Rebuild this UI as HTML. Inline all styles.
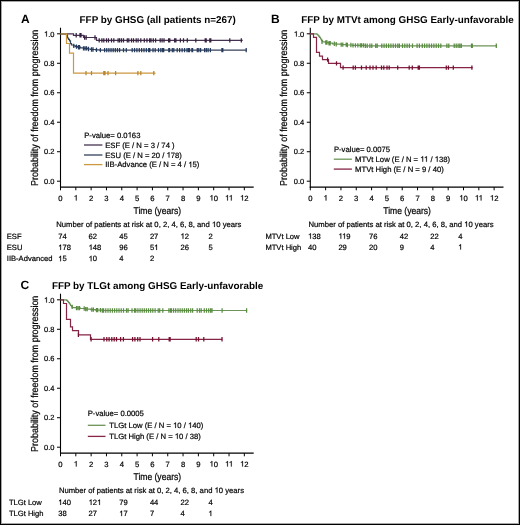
<!DOCTYPE html>
<html><head><meta charset="utf-8"><style>
html,body{margin:0;padding:0;background:#fff;}
body{width:520px;height:525px;overflow:hidden;font-family:"Liberation Sans", sans-serif;}
svg{display:block;will-change:transform;text-rendering:geometricPrecision;}
text{stroke:#000;stroke-width:0.2px;}
text[font-weight=bold]{stroke-width:0px;}
tspan.o{fill:none;stroke:none;}
path.one{stroke:#000;stroke-width:0.2px;}
</style></head><body>
<svg width="520" height="525" viewBox="0 0 520 525" font-family='"Liberation Sans", sans-serif'>
<defs><filter id="bl" x="0" y="0" width="520" height="525" filterUnits="userSpaceOnUse" color-interpolation-filters="sRGB"><feConvolveMatrix order="3" kernelMatrix="0 0 0 0 1 0 0 0 0" divisor="1" edgeMode="duplicate" preserveAlpha="true"/></filter></defs>
<rect x="0" y="0" width="520" height="525" fill="#fff"/>
<g filter="url(#bl)">
<rect x="0" y="0" width="520" height="525" fill="#fff"/>
<line x1="60.50" y1="27.70" x2="60.50" y2="187.70" stroke="#000" stroke-width="1.1"/>
<line x1="60.00" y1="187.10" x2="253.70" y2="187.10" stroke="#000" stroke-width="1.4"/>
<line x1="57.00" y1="181.20" x2="60.50" y2="181.20" stroke="#000" stroke-width="1.0"/>
<text x="54.50" y="183.90" font-size="7.5" text-anchor="end" font-weight="normal" fill="#000">0.0</text>
<line x1="57.00" y1="151.72" x2="60.50" y2="151.72" stroke="#000" stroke-width="1.0"/>
<text x="54.50" y="154.42" font-size="7.5" text-anchor="end" font-weight="normal" fill="#000">0.2</text>
<line x1="57.00" y1="122.24" x2="60.50" y2="122.24" stroke="#000" stroke-width="1.0"/>
<text x="54.50" y="124.94" font-size="7.5" text-anchor="end" font-weight="normal" fill="#000">0.4</text>
<line x1="57.00" y1="92.76" x2="60.50" y2="92.76" stroke="#000" stroke-width="1.0"/>
<text x="54.50" y="95.46" font-size="7.5" text-anchor="end" font-weight="normal" fill="#000">0.6</text>
<line x1="57.00" y1="63.28" x2="60.50" y2="63.28" stroke="#000" stroke-width="1.0"/>
<text x="54.50" y="65.98" font-size="7.5" text-anchor="end" font-weight="normal" fill="#000">0.8</text>
<line x1="57.00" y1="33.80" x2="60.50" y2="33.80" stroke="#000" stroke-width="1.0"/>
<text id="t1" x="54.50" y="36.50" font-size="7.5" text-anchor="end" font-weight="normal" fill="#000"><tspan class="o">1</tspan>.0</text>
<path class="one" d="M46.86,36.50 L46.86,31.13 L46.43,31.13 L46.11,31.52 L45.53,32.00 L44.88,32.34 L44.88,32.96 L45.53,32.69 L46.20,32.30 L46.20,36.50Z " fill="#000"/>
<line x1="60.50" y1="187.10" x2="60.50" y2="190.30" stroke="#000" stroke-width="1.0"/>
<text x="60.50" y="200.50" font-size="7.7" text-anchor="middle" font-weight="normal" fill="#000">0</text>
<line x1="75.82" y1="187.10" x2="75.82" y2="190.30" stroke="#000" stroke-width="1.0"/>
<text id="t2" x="75.82" y="200.50" font-size="7.7" text-anchor="middle" font-weight="normal" fill="#000"><tspan class="o">1</tspan></text>
<path class="one" d="M76.55,200.50 L76.55,194.99 L76.11,194.99 L75.78,195.39 L75.18,195.88 L74.52,196.23 L74.52,196.87 L75.18,196.59 L75.87,196.19 L75.87,200.50Z " fill="#000"/>
<line x1="91.14" y1="187.10" x2="91.14" y2="190.30" stroke="#000" stroke-width="1.0"/>
<text x="91.14" y="200.50" font-size="7.7" text-anchor="middle" font-weight="normal" fill="#000">2</text>
<line x1="106.46" y1="187.10" x2="106.46" y2="190.30" stroke="#000" stroke-width="1.0"/>
<text x="106.46" y="200.50" font-size="7.7" text-anchor="middle" font-weight="normal" fill="#000">3</text>
<line x1="121.78" y1="187.10" x2="121.78" y2="190.30" stroke="#000" stroke-width="1.0"/>
<text x="121.78" y="200.50" font-size="7.7" text-anchor="middle" font-weight="normal" fill="#000">4</text>
<line x1="137.10" y1="187.10" x2="137.10" y2="190.30" stroke="#000" stroke-width="1.0"/>
<text x="137.10" y="200.50" font-size="7.7" text-anchor="middle" font-weight="normal" fill="#000">5</text>
<line x1="152.42" y1="187.10" x2="152.42" y2="190.30" stroke="#000" stroke-width="1.0"/>
<text x="152.42" y="200.50" font-size="7.7" text-anchor="middle" font-weight="normal" fill="#000">6</text>
<line x1="167.74" y1="187.10" x2="167.74" y2="190.30" stroke="#000" stroke-width="1.0"/>
<text x="167.74" y="200.50" font-size="7.7" text-anchor="middle" font-weight="normal" fill="#000">7</text>
<line x1="183.06" y1="187.10" x2="183.06" y2="190.30" stroke="#000" stroke-width="1.0"/>
<text x="183.06" y="200.50" font-size="7.7" text-anchor="middle" font-weight="normal" fill="#000">8</text>
<line x1="198.38" y1="187.10" x2="198.38" y2="190.30" stroke="#000" stroke-width="1.0"/>
<text x="198.38" y="200.50" font-size="7.7" text-anchor="middle" font-weight="normal" fill="#000">9</text>
<line x1="213.70" y1="187.10" x2="213.70" y2="190.30" stroke="#000" stroke-width="1.0"/>
<text id="t3" x="213.70" y="200.50" font-size="7.7" text-anchor="middle" font-weight="normal" fill="#000"><tspan class="o">1</tspan>0</text>
<path class="one" d="M212.29,200.50 L212.29,194.99 L211.85,194.99 L211.52,195.39 L210.92,195.88 L210.26,196.23 L210.26,196.87 L210.92,196.59 L211.61,196.19 L211.61,200.50Z " fill="#000"/>
<line x1="229.02" y1="187.10" x2="229.02" y2="190.30" stroke="#000" stroke-width="1.0"/>
<text id="t4" x="229.02" y="200.50" font-size="7.7" text-anchor="middle" font-weight="normal" fill="#000"><tspan class="o">1</tspan><tspan class="o">1</tspan></text>
<path class="one" d="M227.89,200.50 L227.89,194.99 L227.45,194.99 L227.13,195.39 L226.52,195.88 L225.86,196.23 L225.86,196.87 L226.52,196.59 L227.21,196.19 L227.21,200.50Z M231.61,200.50 L231.61,194.99 L231.17,194.99 L230.84,195.39 L230.24,195.88 L229.58,196.23 L229.58,196.87 L230.24,196.59 L230.93,196.19 L230.93,200.50Z " fill="#000"/>
<line x1="244.34" y1="187.10" x2="244.34" y2="190.30" stroke="#000" stroke-width="1.0"/>
<text id="t5" x="244.34" y="200.50" font-size="7.7" text-anchor="middle" font-weight="normal" fill="#000"><tspan class="o">1</tspan>2</text>
<path class="one" d="M242.93,200.50 L242.93,194.99 L242.49,194.99 L242.16,195.39 L241.56,195.88 L240.90,196.23 L240.90,196.87 L241.56,196.59 L242.25,196.19 L242.25,200.50Z " fill="#000"/>
<text transform="translate(157.30,214.00) scale(1,1.14)" font-size="8.56" text-anchor="middle" fill="#000">Time (years)</text>
<text transform="translate(37.60,107.80) rotate(-90) scale(1,1.12)" font-size="8.93" text-anchor="middle" fill="#000">Probability of freedom from progression</text>
<text x="21.00" y="22.80" font-size="12.0" text-anchor="start" font-weight="bold" fill="#000">A</text>
<text x="79.60" y="22.50" font-size="9.87" text-anchor="start" font-weight="bold" fill="#000">FFP by GHSG (all patients n=267)</text>
<path d="M60.50,33.80 L73.50,33.80 L73.50,35.30 L83.50,35.30 L83.50,37.50 L96.50,37.50 L96.50,40.40 L242.70,40.40" fill="none" stroke="#45324f" stroke-width="1.2" stroke-linejoin="miter" stroke-linecap="butt"/>
<path d="M76.20,33.10 V37.50 M80.00,33.10 V37.50 M81.00,33.10 V37.50 M84.60,35.30 V39.70 M86.20,35.30 V39.70 M95.00,35.30 V39.70 M99.20,38.20 V42.60 M101.90,38.20 V42.60 M103.80,38.20 V42.60 M106.50,38.20 V42.60 M108.50,38.20 V42.60 M111.50,38.20 V42.60 M113.80,38.20 V42.60 M118.10,38.20 V42.60 M119.60,38.20 V42.60 M121.50,38.20 V42.60 M123.50,38.20 V42.60 M127.30,38.20 V42.60 M128.80,38.20 V42.60 M131.50,38.20 V42.60 M133.50,38.20 V42.60 M136.20,38.20 V42.60 M138.10,38.20 V42.60 M140.80,38.20 V42.60 M144.30,38.20 V42.60 M146.95,38.20 V42.60 M149.60,38.20 V42.60 M151.00,38.20 V42.60 M153.30,38.20 V42.60 M155.60,38.20 V42.60 M160.20,38.20 V42.60 M162.10,38.20 V42.60 M164.00,38.20 V42.60 M168.60,38.20 V42.60 M169.80,38.20 V42.60 M174.60,38.20 V42.60 M175.90,38.20 V42.60 M180.40,38.20 V42.60 M183.50,38.20 V42.60 M187.30,38.20 V42.60 M195.80,38.20 V42.60 M205.20,38.20 V42.60 M206.20,38.20 V42.60 M209.80,38.20 V42.60 M210.80,38.20 V42.60 M229.80,38.20 V42.60 M241.30,38.20 V42.60 " stroke="#35203f" stroke-width="1.25" fill="none"/>
<path d="M60.50,33.80 L66.50,33.80 L66.50,35.20 L67.50,35.20 L67.50,36.60 L67.50,36.60 L67.50,38.00 L68.50,38.00 L68.50,39.40 L69.50,39.40 L69.50,40.80 L70.50,40.80 L70.50,42.20 L70.50,42.20 L70.50,43.60 L71.50,43.60 L71.50,45.00 L73.50,45.00 L73.50,45.90 L75.50,45.90 L75.50,46.60 L77.50,46.60 L77.50,47.20 L80.50,47.20 L80.50,47.80 L83.50,47.80 L83.50,48.40 L87.50,48.40 L87.50,49.00 L90.50,49.00 L90.50,49.50 L95.50,49.50 L95.50,49.90 L99.50,49.90 L99.50,50.15 L246.70,50.15" fill="none" stroke="#34425a" stroke-width="1.2" stroke-linejoin="miter" stroke-linecap="butt"/>
<path d="M73.80,43.70 V48.10 M76.50,44.40 V48.80 M78.50,45.00 V49.40 M79.50,45.00 V49.40 M83.50,46.20 V50.60 M85.00,46.20 V50.60 M86.50,46.20 V50.60 M88.50,46.80 V51.20 M91.50,47.30 V51.70 M93.00,47.30 V51.70 M96.50,47.70 V52.10 M100.40,47.95 V52.35 M104.60,47.95 V52.35 M106.74,47.95 V52.35 M108.89,47.95 V52.35 M111.03,47.95 V52.35 M113.17,47.95 V52.35 M115.31,47.95 V52.35 M117.46,47.95 V52.35 M119.60,47.95 V52.35 M123.50,47.95 V52.35 M126.30,47.95 V52.35 M132.20,47.95 V52.35 M134.56,47.95 V52.35 M136.91,47.95 V52.35 M139.27,47.95 V52.35 M141.63,47.95 V52.35 M143.99,47.95 V52.35 M146.34,47.95 V52.35 M148.70,47.95 V52.35 M149.80,47.95 V52.35 M153.00,47.95 V52.35 M155.20,47.95 V52.35 M158.50,47.95 V52.35 M160.80,47.95 V52.35 M162.50,47.95 V52.35 M163.70,47.95 V52.35 M168.80,47.95 V52.35 M169.60,47.95 V52.35 M172.30,47.95 V52.35 M173.80,47.95 V52.35 M177.20,47.95 V52.35 M179.65,47.95 V52.35 M182.10,47.95 V52.35 M184.55,47.95 V52.35 M187.00,47.95 V52.35 M188.50,47.95 V52.35 M189.50,47.95 V52.35 M191.90,47.95 V52.35 M192.60,47.95 V52.35 M197.30,47.95 V52.35 M198.80,47.95 V52.35 M200.60,47.95 V52.35 M204.60,47.95 V52.35 M206.30,47.95 V52.35 M208.10,47.95 V52.35 M210.40,47.95 V52.35 M221.90,47.95 V52.35 M222.80,47.95 V52.35 M246.20,47.95 V52.35 " stroke="#253a5c" stroke-width="1.25" fill="none"/>
<path d="M60.50,33.80 L66.50,33.80 L66.50,43.50 L69.50,43.50 L69.50,53.20 L73.50,53.20 L73.50,73.10 L155.50,73.10" fill="none" stroke="#cc9840" stroke-width="1.2" stroke-linejoin="miter" stroke-linecap="butt"/>
<path d="M86.00,70.90 V75.30 M91.50,70.90 V75.30 M103.80,70.90 V75.30 M105.00,70.90 V75.30 M108.00,70.90 V75.30 M115.60,70.90 V75.30 M137.90,70.90 V75.30 M140.80,70.90 V75.30 M153.80,70.90 V75.30 " stroke="#b8862e" stroke-width="1.25" fill="none"/>
<text id="t6" x="84.20" y="137.60" font-size="7.7" text-anchor="start" font-weight="normal" fill="#000">P-value= 0.0<tspan class="o">1</tspan>63</text>
<path class="one" d="M130.46,137.60 L130.46,132.09 L130.02,132.09 L129.70,132.49 L129.09,132.98 L128.43,133.33 L128.43,133.97 L129.09,133.69 L129.78,133.29 L129.78,137.60Z " fill="#000"/>
<line x1="84.00" y1="145.00" x2="102.40" y2="145.00" stroke="#45324f" stroke-width="1.3"/>
<text x="105.20" y="147.60" font-size="7.7" text-anchor="start" font-weight="normal" fill="#000">ESF (E / N = 3 / 74 )</text>
<line x1="84.00" y1="155.00" x2="102.40" y2="155.00" stroke="#34425a" stroke-width="1.3"/>
<text id="t7" x="105.20" y="157.60" font-size="7.7" text-anchor="start" font-weight="normal" fill="#000">ESU (E / N = 20 / <tspan class="o">1</tspan>78)</text>
<path class="one" d="M169.38,157.60 L169.38,152.09 L168.94,152.09 L168.62,152.49 L168.02,152.98 L167.35,153.33 L167.35,153.97 L168.02,153.69 L168.70,153.29 L168.70,157.60Z " fill="#000"/>
<line x1="84.00" y1="164.60" x2="102.40" y2="164.60" stroke="#cc9840" stroke-width="1.3"/>
<text id="t8" x="105.20" y="167.20" font-size="7.7" text-anchor="start" font-weight="normal" fill="#000">IIB-Advance (E / N = 4 / <tspan class="o">1</tspan>5)</text>
<path class="one" d="M191.18,167.20 L191.18,161.69 L190.74,161.69 L190.41,162.09 L189.81,162.58 L189.15,162.93 L189.15,163.57 L189.81,163.29 L190.50,162.89 L190.50,167.20Z " fill="#000"/>
<text id="t9" x="56.30" y="227.00" font-size="7.68" text-anchor="start" font-weight="normal" fill="#000">Number of patients at risk at 0, 2, 4, 6, 8, and <tspan class="o">1</tspan>0 years</text>
<path class="one" d="M214.82,227.00 L214.82,221.50 L214.38,221.50 L214.06,221.90 L213.46,222.39 L212.79,222.74 L212.79,223.38 L213.46,223.10 L214.14,222.70 L214.14,227.00Z " fill="#000"/>
<text x="6.80" y="238.75" font-size="7.6" text-anchor="start" font-weight="normal" fill="#000">ESF</text>
<text x="58.20" y="238.75" font-size="7.6" text-anchor="start" font-weight="normal" fill="#000">74</text>
<text x="88.60" y="238.75" font-size="7.6" text-anchor="start" font-weight="normal" fill="#000">62</text>
<text x="119.20" y="238.75" font-size="7.6" text-anchor="start" font-weight="normal" fill="#000">45</text>
<text x="149.90" y="238.75" font-size="7.6" text-anchor="start" font-weight="normal" fill="#000">27</text>
<text id="t10" x="180.50" y="238.75" font-size="7.6" text-anchor="start" font-weight="normal" fill="#000"><tspan class="o">1</tspan>2</text>
<path class="one" d="M183.33,238.75 L183.33,233.31 L182.90,233.31 L182.58,233.70 L181.98,234.19 L181.33,234.54 L181.33,235.17 L181.98,234.89 L182.66,234.49 L182.66,238.75Z " fill="#000"/>
<text x="208.40" y="238.75" font-size="7.6" text-anchor="start" font-weight="normal" fill="#000">2</text>
<text x="6.80" y="250.00" font-size="7.6" text-anchor="start" font-weight="normal" fill="#000">ESU</text>
<text id="t11" x="58.20" y="250.00" font-size="7.6" text-anchor="start" font-weight="normal" fill="#000"><tspan class="o">1</tspan>78</text>
<path class="one" d="M61.03,250.00 L61.03,244.56 L60.60,244.56 L60.28,244.95 L59.68,245.44 L59.03,245.79 L59.03,246.42 L59.68,246.14 L60.36,245.74 L60.36,250.00Z " fill="#000"/>
<text id="t12" x="88.60" y="250.00" font-size="7.6" text-anchor="start" font-weight="normal" fill="#000"><tspan class="o">1</tspan>48</text>
<path class="one" d="M91.43,250.00 L91.43,244.56 L91.00,244.56 L90.68,244.95 L90.08,245.44 L89.43,245.79 L89.43,246.42 L90.08,246.14 L90.76,245.74 L90.76,250.00Z " fill="#000"/>
<text x="119.20" y="250.00" font-size="7.6" text-anchor="start" font-weight="normal" fill="#000">96</text>
<text id="t13" x="149.90" y="250.00" font-size="7.6" text-anchor="start" font-weight="normal" fill="#000">5<tspan class="o">1</tspan></text>
<path class="one" d="M156.97,250.00 L156.97,244.56 L156.53,244.56 L156.21,244.95 L155.62,245.44 L154.96,245.79 L154.96,246.42 L155.62,246.14 L156.30,245.74 L156.30,250.00Z " fill="#000"/>
<text x="180.50" y="250.00" font-size="7.6" text-anchor="start" font-weight="normal" fill="#000">26</text>
<text x="208.40" y="250.00" font-size="7.6" text-anchor="start" font-weight="normal" fill="#000">5</text>
<text x="6.80" y="261.25" font-size="7.6" text-anchor="start" font-weight="normal" fill="#000">IIB-Advanced</text>
<text id="t14" x="58.20" y="261.25" font-size="7.6" text-anchor="start" font-weight="normal" fill="#000"><tspan class="o">1</tspan>5</text>
<path class="one" d="M61.03,261.25 L61.03,255.81 L60.60,255.81 L60.28,256.20 L59.68,256.69 L59.03,257.04 L59.03,257.67 L59.68,257.39 L60.36,256.99 L60.36,261.25Z " fill="#000"/>
<text id="t15" x="88.60" y="261.25" font-size="7.6" text-anchor="start" font-weight="normal" fill="#000"><tspan class="o">1</tspan>0</text>
<path class="one" d="M91.43,261.25 L91.43,255.81 L91.00,255.81 L90.68,256.20 L90.08,256.69 L89.43,257.04 L89.43,257.67 L90.08,257.39 L90.76,256.99 L90.76,261.25Z " fill="#000"/>
<text x="119.20" y="261.25" font-size="7.6" text-anchor="start" font-weight="normal" fill="#000">4</text>
<text x="149.90" y="261.25" font-size="7.6" text-anchor="start" font-weight="normal" fill="#000">2</text>
<line x1="310.30" y1="27.70" x2="310.30" y2="187.70" stroke="#000" stroke-width="1.1"/>
<line x1="309.80" y1="187.10" x2="503.50" y2="187.10" stroke="#000" stroke-width="1.4"/>
<line x1="306.80" y1="181.20" x2="310.30" y2="181.20" stroke="#000" stroke-width="1.0"/>
<text x="304.30" y="183.90" font-size="7.5" text-anchor="end" font-weight="normal" fill="#000">0.0</text>
<line x1="306.80" y1="151.72" x2="310.30" y2="151.72" stroke="#000" stroke-width="1.0"/>
<text x="304.30" y="154.42" font-size="7.5" text-anchor="end" font-weight="normal" fill="#000">0.2</text>
<line x1="306.80" y1="122.24" x2="310.30" y2="122.24" stroke="#000" stroke-width="1.0"/>
<text x="304.30" y="124.94" font-size="7.5" text-anchor="end" font-weight="normal" fill="#000">0.4</text>
<line x1="306.80" y1="92.76" x2="310.30" y2="92.76" stroke="#000" stroke-width="1.0"/>
<text x="304.30" y="95.46" font-size="7.5" text-anchor="end" font-weight="normal" fill="#000">0.6</text>
<line x1="306.80" y1="63.28" x2="310.30" y2="63.28" stroke="#000" stroke-width="1.0"/>
<text x="304.30" y="65.98" font-size="7.5" text-anchor="end" font-weight="normal" fill="#000">0.8</text>
<line x1="306.80" y1="33.80" x2="310.30" y2="33.80" stroke="#000" stroke-width="1.0"/>
<text id="t16" x="304.30" y="36.50" font-size="7.5" text-anchor="end" font-weight="normal" fill="#000"><tspan class="o">1</tspan>.0</text>
<path class="one" d="M296.66,36.50 L296.66,31.13 L296.23,31.13 L295.91,31.52 L295.33,32.00 L294.68,32.34 L294.68,32.96 L295.33,32.69 L296.00,32.30 L296.00,36.50Z " fill="#000"/>
<line x1="310.30" y1="187.10" x2="310.30" y2="190.30" stroke="#000" stroke-width="1.0"/>
<text x="310.30" y="200.50" font-size="7.7" text-anchor="middle" font-weight="normal" fill="#000">0</text>
<line x1="325.62" y1="187.10" x2="325.62" y2="190.30" stroke="#000" stroke-width="1.0"/>
<text id="t17" x="325.62" y="200.50" font-size="7.7" text-anchor="middle" font-weight="normal" fill="#000"><tspan class="o">1</tspan></text>
<path class="one" d="M326.35,200.50 L326.35,194.99 L325.91,194.99 L325.58,195.39 L324.98,195.88 L324.32,196.23 L324.32,196.87 L324.98,196.59 L325.67,196.19 L325.67,200.50Z " fill="#000"/>
<line x1="340.94" y1="187.10" x2="340.94" y2="190.30" stroke="#000" stroke-width="1.0"/>
<text x="340.94" y="200.50" font-size="7.7" text-anchor="middle" font-weight="normal" fill="#000">2</text>
<line x1="356.26" y1="187.10" x2="356.26" y2="190.30" stroke="#000" stroke-width="1.0"/>
<text x="356.26" y="200.50" font-size="7.7" text-anchor="middle" font-weight="normal" fill="#000">3</text>
<line x1="371.58" y1="187.10" x2="371.58" y2="190.30" stroke="#000" stroke-width="1.0"/>
<text x="371.58" y="200.50" font-size="7.7" text-anchor="middle" font-weight="normal" fill="#000">4</text>
<line x1="386.90" y1="187.10" x2="386.90" y2="190.30" stroke="#000" stroke-width="1.0"/>
<text x="386.90" y="200.50" font-size="7.7" text-anchor="middle" font-weight="normal" fill="#000">5</text>
<line x1="402.22" y1="187.10" x2="402.22" y2="190.30" stroke="#000" stroke-width="1.0"/>
<text x="402.22" y="200.50" font-size="7.7" text-anchor="middle" font-weight="normal" fill="#000">6</text>
<line x1="417.54" y1="187.10" x2="417.54" y2="190.30" stroke="#000" stroke-width="1.0"/>
<text x="417.54" y="200.50" font-size="7.7" text-anchor="middle" font-weight="normal" fill="#000">7</text>
<line x1="432.86" y1="187.10" x2="432.86" y2="190.30" stroke="#000" stroke-width="1.0"/>
<text x="432.86" y="200.50" font-size="7.7" text-anchor="middle" font-weight="normal" fill="#000">8</text>
<line x1="448.18" y1="187.10" x2="448.18" y2="190.30" stroke="#000" stroke-width="1.0"/>
<text x="448.18" y="200.50" font-size="7.7" text-anchor="middle" font-weight="normal" fill="#000">9</text>
<line x1="463.50" y1="187.10" x2="463.50" y2="190.30" stroke="#000" stroke-width="1.0"/>
<text id="t18" x="463.50" y="200.50" font-size="7.7" text-anchor="middle" font-weight="normal" fill="#000"><tspan class="o">1</tspan>0</text>
<path class="one" d="M462.09,200.50 L462.09,194.99 L461.65,194.99 L461.32,195.39 L460.72,195.88 L460.06,196.23 L460.06,196.87 L460.72,196.59 L461.41,196.19 L461.41,200.50Z " fill="#000"/>
<line x1="478.82" y1="187.10" x2="478.82" y2="190.30" stroke="#000" stroke-width="1.0"/>
<text id="t19" x="478.82" y="200.50" font-size="7.7" text-anchor="middle" font-weight="normal" fill="#000"><tspan class="o">1</tspan><tspan class="o">1</tspan></text>
<path class="one" d="M477.69,200.50 L477.69,194.99 L477.25,194.99 L476.93,195.39 L476.32,195.88 L475.66,196.23 L475.66,196.87 L476.32,196.59 L477.01,196.19 L477.01,200.50Z M481.41,200.50 L481.41,194.99 L480.97,194.99 L480.64,195.39 L480.04,195.88 L479.38,196.23 L479.38,196.87 L480.04,196.59 L480.73,196.19 L480.73,200.50Z " fill="#000"/>
<line x1="494.14" y1="187.10" x2="494.14" y2="190.30" stroke="#000" stroke-width="1.0"/>
<text id="t20" x="494.14" y="200.50" font-size="7.7" text-anchor="middle" font-weight="normal" fill="#000"><tspan class="o">1</tspan>2</text>
<path class="one" d="M492.73,200.50 L492.73,194.99 L492.29,194.99 L491.96,195.39 L491.36,195.88 L490.70,196.23 L490.70,196.87 L491.36,196.59 L492.05,196.19 L492.05,200.50Z " fill="#000"/>
<text transform="translate(407.10,214.00) scale(1,1.14)" font-size="8.56" text-anchor="middle" fill="#000">Time (years)</text>
<text transform="translate(287.40,107.80) rotate(-90) scale(1,1.12)" font-size="8.93" text-anchor="middle" fill="#000">Probability of freedom from progression</text>
<text x="271.00" y="22.80" font-size="12.0" text-anchor="start" font-weight="bold" fill="#000">B</text>
<text x="301.30" y="22.50" font-size="9.87" text-anchor="start" font-weight="bold" fill="#000">FFP by MTVt among GHSG Early-unfavorable</text>
<path d="M310.30,33.80 L316.50,33.80 L316.50,34.20 L317.50,34.20 L317.50,35.00 L318.50,35.00 L318.50,36.20 L319.50,36.20 L319.50,37.40 L320.50,37.40 L320.50,39.00 L321.50,39.00 L321.50,40.70 L322.50,40.70 L322.50,41.80 L325.50,41.80 L325.50,42.50 L328.50,42.50 L328.50,43.20 L332.50,43.20 L332.50,43.80 L336.50,43.80 L336.50,44.20 L341.50,44.20 L341.50,44.60 L346.50,44.60 L346.50,45.00 L352.50,45.00 L352.50,45.40 L365.50,45.40 L365.50,45.80 L497.00,45.80" fill="none" stroke="#6c9458" stroke-width="1.2" stroke-linejoin="miter" stroke-linecap="butt"/>
<path d="M322.00,39.60 V44.00 M325.80,40.30 V44.70 M327.00,40.30 V44.70 M329.00,41.00 V45.40 M330.20,41.00 V45.40 M334.30,41.60 V46.00 M336.20,42.00 V46.40 M341.20,42.40 V46.80 M342.80,42.40 V46.80 M346.20,42.40 V46.80 M347.40,42.80 V47.20 M350.90,42.80 V47.20 M353.00,43.20 V47.60 M355.43,43.20 V47.60 M357.87,43.20 V47.60 M360.30,43.20 V47.60 M361.60,43.20 V47.60 M363.47,43.20 V47.60 M365.33,43.60 V48.00 M367.20,43.60 V48.00 M369.90,43.60 V48.00 M371.80,43.60 V48.00 M375.70,43.60 V48.00 M377.20,43.60 V48.00 M381.80,43.60 V48.00 M384.09,43.60 V48.00 M386.37,43.60 V48.00 M388.66,43.60 V48.00 M390.94,43.60 V48.00 M393.23,43.60 V48.00 M395.51,43.60 V48.00 M397.80,43.60 V48.00 M399.40,43.60 V48.00 M402.50,43.60 V48.00 M404.80,43.60 V48.00 M407.10,43.60 V48.00 M409.40,43.60 V48.00 M412.50,43.60 V48.00 M417.10,43.60 V48.00 M419.40,43.60 V48.00 M422.30,43.60 V48.00 M424.60,43.60 V48.00 M426.90,43.60 V48.00 M429.22,43.60 V48.00 M431.55,43.60 V48.00 M433.88,43.60 V48.00 M436.20,43.60 V48.00 M438.50,43.60 V48.00 M440.80,43.60 V48.00 M446.90,43.60 V48.00 M448.80,43.60 V48.00 M454.20,43.60 V48.00 M456.20,43.60 V48.00 M458.10,43.60 V48.00 M459.80,43.60 V48.00 M461.30,43.60 V48.00 M471.50,43.60 V48.00 M472.30,43.60 V48.00 M496.30,43.60 V48.00 " stroke="#5a8c42" stroke-width="1.25" fill="none"/>
<path d="M310.30,33.80 L313.50,33.80 L313.50,37.30 L316.50,37.30 L316.50,52.30 L319.50,52.30 L319.50,56.20 L322.50,56.20 L322.50,59.60 L328.50,59.60 L328.50,63.40 L340.50,63.40 L340.50,67.60 L472.60,67.60" fill="none" stroke="#862545" stroke-width="1.2" stroke-linejoin="miter" stroke-linecap="butt"/>
<path d="M327.60,57.40 V61.80 M336.50,61.20 V65.60 M343.10,65.40 V69.80 M353.20,65.40 V69.80 M355.40,65.40 V69.80 M361.50,65.40 V69.80 M366.20,65.40 V69.80 M370.00,65.40 V69.80 M373.00,65.40 V69.80 M376.20,65.40 V69.80 M381.50,65.40 V69.80 M383.80,65.40 V69.80 M387.00,65.40 V69.80 M389.20,65.40 V69.80 M397.70,65.40 V69.80 M409.20,65.40 V69.80 M412.30,65.40 V69.80 M418.20,65.40 V69.80 M419.40,65.40 V69.80 M446.30,65.40 V69.80 M448.40,65.40 V69.80 M453.30,65.40 V69.80 M471.90,65.40 V69.80 " stroke="#76102f" stroke-width="1.25" fill="none"/>
<text x="333.90" y="151.70" font-size="7.7" text-anchor="start" font-weight="normal" fill="#000">P-value= 0.0075</text>
<line x1="333.80" y1="159.20" x2="351.90" y2="159.20" stroke="#6c9458" stroke-width="1.3"/>
<text id="t21" x="355.10" y="161.70" font-size="7.7" text-anchor="start" font-weight="normal" fill="#000">MTVt Low (E / N = <tspan class="o">1</tspan><tspan class="o">1</tspan> / <tspan class="o">1</tspan>38)</text>
<path class="one" d="M423.12,161.70 L423.12,156.19 L422.69,156.19 L422.36,156.59 L421.76,157.08 L421.09,157.43 L421.09,158.07 L421.76,157.79 L422.45,157.39 L422.45,161.70Z M426.84,161.70 L426.84,156.19 L426.40,156.19 L426.08,156.59 L425.48,157.08 L424.81,157.43 L424.81,158.07 L425.48,157.79 L426.17,157.39 L426.17,161.70Z M437.55,161.70 L437.55,156.19 L437.11,156.19 L436.78,156.59 L436.18,157.08 L435.52,157.43 L435.52,158.07 L436.18,157.79 L436.87,157.39 L436.87,161.70Z " fill="#000"/>
<line x1="333.80" y1="169.10" x2="351.90" y2="169.10" stroke="#862545" stroke-width="1.3"/>
<text x="355.10" y="171.50" font-size="7.7" text-anchor="start" font-weight="normal" fill="#000">MTVt High (E / N = 9 / 40)</text>
<text id="t22" x="308.50" y="226.80" font-size="7.68" text-anchor="start" font-weight="normal" fill="#000">Number of patients at risk at 0, 2, 4, 6, 8, and <tspan class="o">1</tspan>0 years</text>
<path class="one" d="M467.02,226.80 L467.02,221.30 L466.58,221.30 L466.26,221.70 L465.66,222.19 L464.99,222.54 L464.99,223.18 L465.66,222.90 L466.34,222.50 L466.34,226.80Z " fill="#000"/>
<text x="265.40" y="238.70" font-size="7.6" text-anchor="start" font-weight="normal" fill="#000">MTVt Low</text>
<text id="t23" x="308.00" y="238.70" font-size="7.6" text-anchor="start" font-weight="normal" fill="#000"><tspan class="o">1</tspan>38</text>
<path class="one" d="M310.83,238.70 L310.83,233.26 L310.40,233.26 L310.08,233.65 L309.48,234.14 L308.83,234.49 L308.83,235.12 L309.48,234.84 L310.16,234.44 L310.16,238.70Z " fill="#000"/>
<text id="t24" x="338.40" y="238.70" font-size="7.6" text-anchor="start" font-weight="normal" fill="#000"><tspan class="o">1</tspan><tspan class="o">1</tspan>9</text>
<path class="one" d="M341.23,238.70 L341.23,233.26 L340.80,233.26 L340.48,233.65 L339.88,234.14 L339.23,234.49 L339.23,235.12 L339.88,234.84 L340.56,234.44 L340.56,238.70Z M344.90,238.70 L344.90,233.26 L344.47,233.26 L344.15,233.65 L343.56,234.14 L342.90,234.49 L342.90,235.12 L343.56,234.84 L344.24,234.44 L344.24,238.70Z " fill="#000"/>
<text x="369.00" y="238.70" font-size="7.6" text-anchor="start" font-weight="normal" fill="#000">76</text>
<text x="399.70" y="238.70" font-size="7.6" text-anchor="start" font-weight="normal" fill="#000">42</text>
<text x="430.30" y="238.70" font-size="7.6" text-anchor="start" font-weight="normal" fill="#000">22</text>
<text x="458.20" y="238.70" font-size="7.6" text-anchor="start" font-weight="normal" fill="#000">4</text>
<text x="265.40" y="249.60" font-size="7.6" text-anchor="start" font-weight="normal" fill="#000">MTVt High</text>
<text x="308.00" y="249.60" font-size="7.6" text-anchor="start" font-weight="normal" fill="#000">40</text>
<text x="338.40" y="249.60" font-size="7.6" text-anchor="start" font-weight="normal" fill="#000">29</text>
<text x="369.00" y="249.60" font-size="7.6" text-anchor="start" font-weight="normal" fill="#000">20</text>
<text x="399.70" y="249.60" font-size="7.6" text-anchor="start" font-weight="normal" fill="#000">9</text>
<text x="430.30" y="249.60" font-size="7.6" text-anchor="start" font-weight="normal" fill="#000">4</text>
<text id="t25" x="458.20" y="249.60" font-size="7.6" text-anchor="start" font-weight="normal" fill="#000"><tspan class="o">1</tspan></text>
<path class="one" d="M461.03,249.60 L461.03,244.16 L460.60,244.16 L460.28,244.55 L459.68,245.04 L459.03,245.39 L459.03,246.02 L459.68,245.74 L460.36,245.34 L460.36,249.60Z " fill="#000"/>
<line x1="60.50" y1="293.70" x2="60.50" y2="453.70" stroke="#000" stroke-width="1.1"/>
<line x1="60.00" y1="453.10" x2="253.70" y2="453.10" stroke="#000" stroke-width="1.4"/>
<line x1="57.00" y1="447.20" x2="60.50" y2="447.20" stroke="#000" stroke-width="1.0"/>
<text x="54.50" y="449.90" font-size="7.5" text-anchor="end" font-weight="normal" fill="#000">0.0</text>
<line x1="57.00" y1="417.72" x2="60.50" y2="417.72" stroke="#000" stroke-width="1.0"/>
<text x="54.50" y="420.42" font-size="7.5" text-anchor="end" font-weight="normal" fill="#000">0.2</text>
<line x1="57.00" y1="388.24" x2="60.50" y2="388.24" stroke="#000" stroke-width="1.0"/>
<text x="54.50" y="390.94" font-size="7.5" text-anchor="end" font-weight="normal" fill="#000">0.4</text>
<line x1="57.00" y1="358.76" x2="60.50" y2="358.76" stroke="#000" stroke-width="1.0"/>
<text x="54.50" y="361.46" font-size="7.5" text-anchor="end" font-weight="normal" fill="#000">0.6</text>
<line x1="57.00" y1="329.28" x2="60.50" y2="329.28" stroke="#000" stroke-width="1.0"/>
<text x="54.50" y="331.98" font-size="7.5" text-anchor="end" font-weight="normal" fill="#000">0.8</text>
<line x1="57.00" y1="299.80" x2="60.50" y2="299.80" stroke="#000" stroke-width="1.0"/>
<text id="t26" x="54.50" y="302.50" font-size="7.5" text-anchor="end" font-weight="normal" fill="#000"><tspan class="o">1</tspan>.0</text>
<path class="one" d="M46.86,302.50 L46.86,297.13 L46.43,297.13 L46.11,297.52 L45.53,298.00 L44.88,298.34 L44.88,298.96 L45.53,298.69 L46.20,298.30 L46.20,302.50Z " fill="#000"/>
<line x1="60.50" y1="453.10" x2="60.50" y2="456.30" stroke="#000" stroke-width="1.0"/>
<text x="60.50" y="466.50" font-size="7.7" text-anchor="middle" font-weight="normal" fill="#000">0</text>
<line x1="75.82" y1="453.10" x2="75.82" y2="456.30" stroke="#000" stroke-width="1.0"/>
<text id="t27" x="75.82" y="466.50" font-size="7.7" text-anchor="middle" font-weight="normal" fill="#000"><tspan class="o">1</tspan></text>
<path class="one" d="M76.55,466.50 L76.55,460.99 L76.11,460.99 L75.78,461.39 L75.18,461.88 L74.52,462.23 L74.52,462.87 L75.18,462.59 L75.87,462.19 L75.87,466.50Z " fill="#000"/>
<line x1="91.14" y1="453.10" x2="91.14" y2="456.30" stroke="#000" stroke-width="1.0"/>
<text x="91.14" y="466.50" font-size="7.7" text-anchor="middle" font-weight="normal" fill="#000">2</text>
<line x1="106.46" y1="453.10" x2="106.46" y2="456.30" stroke="#000" stroke-width="1.0"/>
<text x="106.46" y="466.50" font-size="7.7" text-anchor="middle" font-weight="normal" fill="#000">3</text>
<line x1="121.78" y1="453.10" x2="121.78" y2="456.30" stroke="#000" stroke-width="1.0"/>
<text x="121.78" y="466.50" font-size="7.7" text-anchor="middle" font-weight="normal" fill="#000">4</text>
<line x1="137.10" y1="453.10" x2="137.10" y2="456.30" stroke="#000" stroke-width="1.0"/>
<text x="137.10" y="466.50" font-size="7.7" text-anchor="middle" font-weight="normal" fill="#000">5</text>
<line x1="152.42" y1="453.10" x2="152.42" y2="456.30" stroke="#000" stroke-width="1.0"/>
<text x="152.42" y="466.50" font-size="7.7" text-anchor="middle" font-weight="normal" fill="#000">6</text>
<line x1="167.74" y1="453.10" x2="167.74" y2="456.30" stroke="#000" stroke-width="1.0"/>
<text x="167.74" y="466.50" font-size="7.7" text-anchor="middle" font-weight="normal" fill="#000">7</text>
<line x1="183.06" y1="453.10" x2="183.06" y2="456.30" stroke="#000" stroke-width="1.0"/>
<text x="183.06" y="466.50" font-size="7.7" text-anchor="middle" font-weight="normal" fill="#000">8</text>
<line x1="198.38" y1="453.10" x2="198.38" y2="456.30" stroke="#000" stroke-width="1.0"/>
<text x="198.38" y="466.50" font-size="7.7" text-anchor="middle" font-weight="normal" fill="#000">9</text>
<line x1="213.70" y1="453.10" x2="213.70" y2="456.30" stroke="#000" stroke-width="1.0"/>
<text id="t28" x="213.70" y="466.50" font-size="7.7" text-anchor="middle" font-weight="normal" fill="#000"><tspan class="o">1</tspan>0</text>
<path class="one" d="M212.29,466.50 L212.29,460.99 L211.85,460.99 L211.52,461.39 L210.92,461.88 L210.26,462.23 L210.26,462.87 L210.92,462.59 L211.61,462.19 L211.61,466.50Z " fill="#000"/>
<line x1="229.02" y1="453.10" x2="229.02" y2="456.30" stroke="#000" stroke-width="1.0"/>
<text id="t29" x="229.02" y="466.50" font-size="7.7" text-anchor="middle" font-weight="normal" fill="#000"><tspan class="o">1</tspan><tspan class="o">1</tspan></text>
<path class="one" d="M227.89,466.50 L227.89,460.99 L227.45,460.99 L227.13,461.39 L226.52,461.88 L225.86,462.23 L225.86,462.87 L226.52,462.59 L227.21,462.19 L227.21,466.50Z M231.61,466.50 L231.61,460.99 L231.17,460.99 L230.84,461.39 L230.24,461.88 L229.58,462.23 L229.58,462.87 L230.24,462.59 L230.93,462.19 L230.93,466.50Z " fill="#000"/>
<line x1="244.34" y1="453.10" x2="244.34" y2="456.30" stroke="#000" stroke-width="1.0"/>
<text id="t30" x="244.34" y="466.50" font-size="7.7" text-anchor="middle" font-weight="normal" fill="#000"><tspan class="o">1</tspan>2</text>
<path class="one" d="M242.93,466.50 L242.93,460.99 L242.49,460.99 L242.16,461.39 L241.56,461.88 L240.90,462.23 L240.90,462.87 L241.56,462.59 L242.25,462.19 L242.25,466.50Z " fill="#000"/>
<text transform="translate(157.30,480.00) scale(1,1.14)" font-size="8.56" text-anchor="middle" fill="#000">Time (years)</text>
<text transform="translate(37.60,373.80) rotate(-90) scale(1,1.12)" font-size="8.93" text-anchor="middle" fill="#000">Probability of freedom from progression</text>
<text x="20.50" y="288.80" font-size="12.0" text-anchor="start" font-weight="bold" fill="#000">C</text>
<text x="51.90" y="288.50" font-size="9.87" text-anchor="start" font-weight="bold" fill="#000">FFP by TLGt among GHSG Early-unfavorable</text>
<path d="M60.50,299.80 L66.50,299.80 L66.50,300.30 L67.50,300.30 L67.50,301.30 L68.50,301.30 L68.50,302.60 L69.50,302.60 L69.50,304.00 L70.50,304.00 L70.50,305.50 L71.50,305.50 L71.50,306.90 L72.50,306.90 L72.50,307.70 L76.50,307.70 L76.50,308.10 L80.50,308.10 L80.50,308.50 L85.50,308.50 L85.50,309.10 L90.50,309.10 L90.50,309.60 L95.50,309.60 L95.50,310.10 L102.50,310.10 L102.50,310.50 L247.10,310.50" fill="none" stroke="#6c9458" stroke-width="1.2" stroke-linejoin="miter" stroke-linecap="butt"/>
<path d="M72.20,304.70 V309.10 M76.50,305.90 V310.30 M78.00,305.90 V310.30 M79.50,305.90 V310.30 M84.20,306.30 V310.70 M85.70,306.90 V311.30 M87.20,306.90 V311.30 M91.80,307.40 V311.80 M93.40,307.40 V311.80 M96.50,307.90 V312.30 M97.70,307.90 V312.30 M100.40,307.90 V312.30 M102.30,308.30 V312.70 M103.60,308.30 V312.70 M105.80,308.30 V312.70 M108.00,308.30 V312.70 M110.20,308.30 V312.70 M112.40,308.30 V312.70 M114.60,308.30 V312.70 M116.80,308.30 V312.70 M119.00,308.30 V312.70 M121.20,308.30 V312.70 M123.50,308.30 V312.70 M126.50,308.30 V312.70 M128.10,308.30 V312.70 M132.00,308.30 V312.70 M134.50,308.30 V312.70 M135.80,308.30 V312.70 M137.93,308.30 V312.70 M140.05,308.30 V312.70 M142.18,308.30 V312.70 M144.30,308.30 V312.70 M146.43,308.30 V312.70 M148.55,308.30 V312.70 M150.68,308.30 V312.70 M152.80,308.30 V312.70 M155.10,308.30 V312.70 M158.20,308.30 V312.70 M159.70,308.30 V312.70 M162.80,308.30 V312.70 M168.90,308.30 V312.70 M170.50,308.30 V312.70 M171.50,308.30 V312.70 M173.60,308.30 V312.70 M175.70,308.30 V312.70 M178.00,308.30 V312.70 M180.12,308.30 V312.70 M182.25,308.30 V312.70 M184.38,308.30 V312.70 M186.50,308.30 V312.70 M188.40,308.30 V312.70 M190.70,308.30 V312.70 M192.60,308.30 V312.70 M197.20,308.30 V312.70 M199.50,308.30 V312.70 M201.20,308.30 V312.70 M204.30,308.30 V312.70 M206.50,308.30 V312.70 M208.70,308.30 V312.70 M210.60,308.30 V312.70 M212.00,308.30 V312.70 M222.10,308.30 V312.70 M246.60,308.30 V312.70 " stroke="#5a8c42" stroke-width="1.25" fill="none"/>
<path d="M60.50,299.80 L63.50,299.80 L63.50,303.50 L66.50,303.50 L66.50,319.30 L70.50,319.30 L70.50,326.80 L72.50,326.80 L72.50,330.60 L78.50,330.60 L78.50,334.90 L90.50,334.90 L90.50,339.30 L222.30,339.30" fill="none" stroke="#862545" stroke-width="1.2" stroke-linejoin="miter" stroke-linecap="butt"/>
<path d="M78.40,332.70 V337.10 M91.10,337.10 V341.50 M104.00,337.10 V341.50 M106.80,337.10 V341.50 M109.10,337.10 V341.50 M111.80,337.10 V341.50 M114.20,337.10 V341.50 M116.50,337.10 V341.50 M120.60,337.10 V341.50 M123.40,337.10 V341.50 M132.60,337.10 V341.50 M134.90,337.10 V341.50 M137.70,337.10 V341.50 M140.00,337.10 V341.50 M152.60,337.10 V341.50 M158.80,337.10 V341.50 M169.20,337.10 V341.50 M170.10,337.10 V341.50 M196.20,337.10 V341.50 M198.50,337.10 V341.50 M203.80,337.10 V341.50 M222.00,337.10 V341.50 " stroke="#76102f" stroke-width="1.25" fill="none"/>
<text x="87.70" y="416.00" font-size="7.7" text-anchor="start" font-weight="normal" fill="#000">P-value= 0.0005</text>
<line x1="87.80" y1="425.30" x2="105.50" y2="425.30" stroke="#6c9458" stroke-width="1.3"/>
<text id="t31" x="109.20" y="427.90" font-size="7.7" text-anchor="start" font-weight="normal" fill="#000">TLGt Low (E / N = <tspan class="o">1</tspan>0 / <tspan class="o">1</tspan>40)</text>
<path class="one" d="M175.94,427.90 L175.94,422.39 L175.50,422.39 L175.18,422.79 L174.58,423.28 L173.91,423.63 L173.91,424.27 L174.58,423.99 L175.27,423.59 L175.27,427.90Z M190.91,427.90 L190.91,422.39 L190.47,422.39 L190.15,422.79 L189.55,423.28 L188.88,423.63 L188.88,424.27 L189.55,423.99 L190.24,423.59 L190.24,427.90Z " fill="#000"/>
<line x1="87.80" y1="436.40" x2="105.50" y2="436.40" stroke="#862545" stroke-width="1.3"/>
<text id="t32" x="109.20" y="438.80" font-size="7.7" text-anchor="start" font-weight="normal" fill="#000">TLGt High (E / N = <tspan class="o">1</tspan>0 / 38)</text>
<path class="one" d="M177.65,438.80 L177.65,433.29 L177.21,433.29 L176.88,433.69 L176.28,434.18 L175.62,434.53 L175.62,435.17 L176.28,434.89 L176.97,434.49 L176.97,438.80Z " fill="#000"/>
<text id="t33" x="58.90" y="492.80" font-size="7.68" text-anchor="start" font-weight="normal" fill="#000">Number of patients at risk at 0, 2, 4, 6, 8, and <tspan class="o">1</tspan>0 years</text>
<path class="one" d="M217.42,492.80 L217.42,487.30 L216.98,487.30 L216.66,487.70 L216.06,488.19 L215.39,488.54 L215.39,489.18 L216.06,488.90 L216.74,488.50 L216.74,492.80Z " fill="#000"/>
<text x="8.90" y="504.90" font-size="7.6" text-anchor="start" font-weight="normal" fill="#000">TLGt Low</text>
<text id="t34" x="58.20" y="504.90" font-size="7.6" text-anchor="start" font-weight="normal" fill="#000"><tspan class="o">1</tspan>40</text>
<path class="one" d="M61.03,504.90 L61.03,499.46 L60.60,499.46 L60.28,499.85 L59.68,500.34 L59.03,500.69 L59.03,501.32 L59.68,501.04 L60.36,500.64 L60.36,504.90Z " fill="#000"/>
<text id="t35" x="88.60" y="504.90" font-size="7.6" text-anchor="start" font-weight="normal" fill="#000"><tspan class="o">1</tspan>2<tspan class="o">1</tspan></text>
<path class="one" d="M91.43,504.90 L91.43,499.46 L91.00,499.46 L90.68,499.85 L90.08,500.34 L89.43,500.69 L89.43,501.32 L90.08,501.04 L90.76,500.64 L90.76,504.90Z M99.90,504.90 L99.90,499.46 L99.47,499.46 L99.15,499.85 L98.55,500.34 L97.90,500.69 L97.90,501.32 L98.55,501.04 L99.23,500.64 L99.23,504.90Z " fill="#000"/>
<text x="119.20" y="504.90" font-size="7.6" text-anchor="start" font-weight="normal" fill="#000">79</text>
<text x="149.90" y="504.90" font-size="7.6" text-anchor="start" font-weight="normal" fill="#000">44</text>
<text x="180.50" y="504.90" font-size="7.6" text-anchor="start" font-weight="normal" fill="#000">22</text>
<text x="208.40" y="504.90" font-size="7.6" text-anchor="start" font-weight="normal" fill="#000">4</text>
<text x="8.90" y="516.10" font-size="7.6" text-anchor="start" font-weight="normal" fill="#000">TLGt High</text>
<text x="58.20" y="516.10" font-size="7.6" text-anchor="start" font-weight="normal" fill="#000">38</text>
<text x="88.60" y="516.10" font-size="7.6" text-anchor="start" font-weight="normal" fill="#000">27</text>
<text id="t36" x="119.20" y="516.10" font-size="7.6" text-anchor="start" font-weight="normal" fill="#000"><tspan class="o">1</tspan>7</text>
<path class="one" d="M122.03,516.10 L122.03,510.66 L121.60,510.66 L121.28,511.05 L120.68,511.54 L120.03,511.89 L120.03,512.52 L120.68,512.24 L121.36,511.84 L121.36,516.10Z " fill="#000"/>
<text x="149.90" y="516.10" font-size="7.6" text-anchor="start" font-weight="normal" fill="#000">7</text>
<text x="180.50" y="516.10" font-size="7.6" text-anchor="start" font-weight="normal" fill="#000">4</text>
<text id="t37" x="208.40" y="516.10" font-size="7.6" text-anchor="start" font-weight="normal" fill="#000"><tspan class="o">1</tspan></text>
<path class="one" d="M211.23,516.10 L211.23,510.66 L210.80,510.66 L210.48,511.05 L209.88,511.54 L209.23,511.89 L209.23,512.52 L209.88,512.24 L210.56,511.84 L210.56,516.10Z " fill="#000"/>
<rect x="0.5" y="0.5" width="519" height="524" fill="none" stroke="#000" stroke-width="1"/>
<rect x="1.5" y="1.5" width="517" height="522" fill="none" stroke="#000" stroke-opacity="0.35" stroke-width="1"/>
</g>
</svg>
</body></html>
